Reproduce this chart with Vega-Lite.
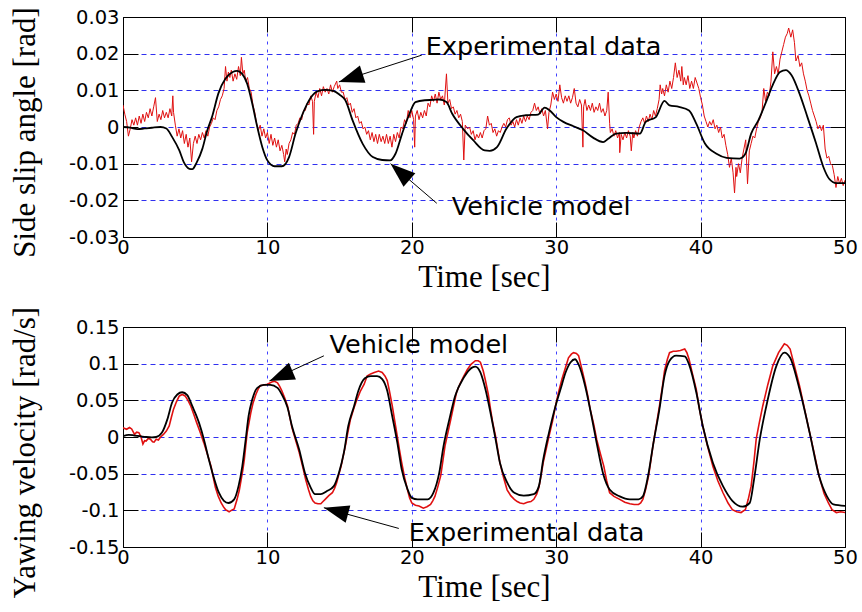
{
"$schema": "https://vega.github.io/schema/vega-lite/v6.json",
"background": "white",
"padding": {"left": 9, "top": 6, "right": 2, "bottom": 2},
"spacing": 13,
"config": {"view": {"stroke": null}},
"datasets": {
"topExp": [{"t":0,"v":0.006},{"t":0.125,"v":0.0035},{"t":0.25,"v":0.0015},{"t":0.375,"v":-0.0025},{"t":0.5,"v":-0.0005},{"t":0.625,"v":0.002},{"t":0.75,"v":0.0005},{"t":0.875,"v":0.0025},{"t":1,"v":0.0005},{"t":1.125,"v":0.003},{"t":1.25,"v":0.001},{"t":1.375,"v":0.0035},{"t":1.5,"v":0.0015},{"t":1.625,"v":0.004},{"t":1.75,"v":0.0025},{"t":1.875,"v":0.005},{"t":2,"v":0.003},{"t":2.125,"v":0.0055},{"t":2.25,"v":0.008},{"t":2.375,"v":0.0015},{"t":2.5,"v":0.0035},{"t":2.625,"v":0.002},{"t":2.75,"v":0.0045},{"t":2.875,"v":0.0025},{"t":3,"v":0.004},{"t":3.125,"v":0.0025},{"t":3.25,"v":0.005},{"t":3.375,"v":0.003},{"t":3.45,"v":0.0085},{"t":3.5,"v":0.004},{"t":3.625,"v":0.0005},{"t":3.75,"v":-0.0025},{"t":3.875,"v":-0.0005},{"t":4,"v":-0.003},{"t":4.125,"v":-0.001},{"t":4.25,"v":-0.0045},{"t":4.375,"v":-0.002},{"t":4.5,"v":-0.0055},{"t":4.625,"v":-0.003},{"t":4.75,"v":-0.0095},{"t":4.875,"v":-0.0045},{"t":5,"v":-0.0025},{"t":5.125,"v":-0.0045},{"t":5.25,"v":-0.002},{"t":5.375,"v":-0.0035},{"t":5.5,"v":-0.0015},{"t":5.625,"v":-0.003},{"t":5.75,"v":-0.001},{"t":5.875,"v":-0.0025},{"t":6,"v":0},{"t":6.125,"v":0.001},{"t":6.25,"v":0.0025},{"t":6.375,"v":0.002},{"t":6.5,"v":0.0045},{"t":6.625,"v":0.0055},{"t":6.75,"v":0.0075},{"t":6.875,"v":0.0085},{"t":7,"v":0.0105},{"t":7.1,"v":0.0165},{"t":7.2,"v":0.0125},{"t":7.3,"v":0.015},{"t":7.4,"v":0.0135},{"t":7.5,"v":0.0155},{"t":7.625,"v":0.0125},{"t":7.75,"v":0.0145},{"t":7.875,"v":0.013},{"t":8,"v":0.0165},{"t":8.125,"v":0.014},{"t":8.2,"v":0.019},{"t":8.3,"v":0.0145},{"t":8.4,"v":0.0155},{"t":8.5,"v":0.0125},{"t":8.625,"v":0.0135},{"t":8.75,"v":0.0105},{"t":8.875,"v":0.0095},{"t":9,"v":0.006},{"t":9.125,"v":0.004},{"t":9.25,"v":0.001},{"t":9.375,"v":-0.001},{"t":9.5,"v":0.0005},{"t":9.625,"v":-0.0025},{"t":9.75,"v":-0.0005},{"t":9.875,"v":-0.003},{"t":10,"v":-0.0015},{"t":10.125,"v":-0.0045},{"t":10.25,"v":-0.002},{"t":10.375,"v":-0.005},{"t":10.5,"v":-0.003},{"t":10.625,"v":-0.0055},{"t":10.75,"v":-0.0035},{"t":10.875,"v":-0.0065},{"t":11,"v":-0.005},{"t":11.125,"v":-0.0075},{"t":11.2,"v":-0.0095},{"t":11.3,"v":-0.006},{"t":11.375,"v":-0.0075},{"t":11.5,"v":-0.0045},{"t":11.625,"v":-0.0035},{"t":11.75,"v":-0.0015},{"t":11.875,"v":-0.002},{"t":12,"v":0.0005},{"t":12.125,"v":0.001},{"t":12.25,"v":0.0025},{"t":12.375,"v":0.002},{"t":12.5,"v":0.0045},{"t":12.625,"v":0.0045},{"t":12.75,"v":0.0065},{"t":12.875,"v":0.006},{"t":13,"v":0.0085},{"t":13.125,"v":0.007},{"t":13.2,"v":-0.002},{"t":13.25,"v":0.007},{"t":13.375,"v":0.0095},{"t":13.5,"v":0.008},{"t":13.625,"v":0.0105},{"t":13.75,"v":0.0085},{"t":13.875,"v":0.011},{"t":14,"v":0.0095},{"t":14.125,"v":0.0105},{"t":14.25,"v":0.009},{"t":14.375,"v":0.0115},{"t":14.5,"v":0.0095},{"t":14.625,"v":0.011},{"t":14.8,"v":0.0125},{"t":14.875,"v":0.0105},{"t":15,"v":0.0115},{"t":15.125,"v":0.0095},{"t":15.25,"v":0.0095},{"t":15.375,"v":0.0075},{"t":15.5,"v":0.008},{"t":15.625,"v":0.006},{"t":15.75,"v":0.0065},{"t":15.875,"v":0.004},{"t":16,"v":0.005},{"t":16.125,"v":0.0025},{"t":16.25,"v":0.003},{"t":16.375,"v":0.001},{"t":16.5,"v":0.0015},{"t":16.625,"v":-0.0005},{"t":16.75,"v":0},{"t":16.875,"v":-0.002},{"t":17,"v":-0.001},{"t":17.125,"v":-0.0035},{"t":17.25,"v":-0.0015},{"t":17.375,"v":-0.004},{"t":17.5,"v":-0.002},{"t":17.625,"v":-0.0045},{"t":17.75,"v":-0.002},{"t":17.875,"v":-0.004},{"t":18,"v":-0.0025},{"t":18.125,"v":-0.0045},{"t":18.25,"v":-0.002},{"t":18.375,"v":-0.0045},{"t":18.5,"v":-0.0025},{"t":18.625,"v":-0.0055},{"t":18.75,"v":-0.002},{"t":18.875,"v":-0.004},{"t":19,"v":-0.0015},{"t":19.125,"v":-0.003},{"t":19.25,"v":0},{"t":19.375,"v":-0.0005},{"t":19.5,"v":0.002},{"t":19.625,"v":0.001},{"t":19.75,"v":0.0045},{"t":19.875,"v":0.0025},{"t":20,"v":0.0045},{"t":20.125,"v":0.002},{"t":20.2,"v":-0.0055},{"t":20.25,"v":0.003},{"t":20.375,"v":0.0045},{"t":20.5,"v":0.002},{"t":20.625,"v":0.004},{"t":20.75,"v":0.0025},{"t":20.875,"v":0.0045},{"t":21,"v":0.003},{"t":21.125,"v":0.0065},{"t":21.25,"v":0.0055},{"t":21.375,"v":0.0085},{"t":21.5,"v":0.007},{"t":21.625,"v":0.009},{"t":21.75,"v":0.0065},{"t":21.875,"v":0.0095},{"t":22,"v":0.0075},{"t":22.125,"v":0.0085},{"t":22.25,"v":0.006},{"t":22.4,"v":0.0145},{"t":22.5,"v":0.0065},{"t":22.625,"v":0.0075},{"t":22.75,"v":0.005},{"t":22.875,"v":0.0055},{"t":23,"v":0.0035},{"t":23.125,"v":0.0045},{"t":23.25,"v":0.0025},{"t":23.375,"v":0.0035},{"t":23.5,"v":0.0015},{"t":23.6,"v":-0.009},{"t":23.7,"v":0.0005},{"t":23.875,"v":-0.0005},{"t":24,"v":0},{"t":24.125,"v":-0.002},{"t":24.25,"v":-0.001},{"t":24.375,"v":-0.0035},{"t":24.5,"v":-0.002},{"t":24.625,"v":-0.003},{"t":24.75,"v":-0.0015},{"t":24.875,"v":-0.003},{"t":25,"v":-0.001},{"t":25.125,"v":-0.0005},{"t":25.25,"v":0.003},{"t":25.375,"v":0.0005},{"t":25.5,"v":0.001},{"t":25.625,"v":-0.0015},{"t":25.75,"v":-0.0005},{"t":25.875,"v":-0.0025},{"t":26,"v":-0.001},{"t":26.125,"v":-0.0015},{"t":26.25,"v":0},{"t":26.375,"v":0.001},{"t":26.5,"v":0},{"t":26.625,"v":0.002},{"t":26.75,"v":0.0025},{"t":26.875,"v":0.0005},{"t":27,"v":0.0015},{"t":27.125,"v":0},{"t":27.25,"v":0.002},{"t":27.375,"v":0.0005},{"t":27.5,"v":0.0025},{"t":27.625,"v":0.001},{"t":27.75,"v":0.003},{"t":27.875,"v":0.0015},{"t":28,"v":0.003},{"t":28.125,"v":0.002},{"t":28.25,"v":0.004},{"t":28.375,"v":0.0045},{"t":28.5,"v":0.0065},{"t":28.625,"v":0.0045},{"t":28.75,"v":0.0055},{"t":28.875,"v":0.0035},{"t":29,"v":0.005},{"t":29.125,"v":0.003},{"t":29.25,"v":0.0045},{"t":29.4,"v":-0.0005},{"t":29.5,"v":0.004},{"t":29.625,"v":0.006},{"t":29.75,"v":0.0095},{"t":29.875,"v":0.0075},{"t":30,"v":0.009},{"t":30.125,"v":0.007},{"t":30.25,"v":0.0115},{"t":30.375,"v":0.008},{"t":30.5,"v":0.0065},{"t":30.625,"v":0.0085},{"t":30.75,"v":0.007},{"t":30.875,"v":0.0085},{"t":31,"v":0.0065},{"t":31.125,"v":0.008},{"t":31.25,"v":0.0105},{"t":31.375,"v":0.0065},{"t":31.5,"v":0.0055},{"t":31.625,"v":0.0075},{"t":31.75,"v":0.006},{"t":31.85,"v":-0.0055},{"t":31.9,"v":0.0055},{"t":32,"v":0.0075},{"t":32.125,"v":0.0045},{"t":32.25,"v":0.006},{"t":32.375,"v":0.0045},{"t":32.5,"v":0.0065},{"t":32.625,"v":0.004},{"t":32.75,"v":0.0055},{"t":32.875,"v":0.0045},{"t":33,"v":0.0065},{"t":33.125,"v":0.004},{"t":33.25,"v":0.005},{"t":33.375,"v":0.003},{"t":33.5,"v":0.0045},{"t":33.6,"v":0.0095},{"t":33.7,"v":0.001},{"t":33.75,"v":-0.0015},{"t":33.875,"v":-0.0005},{"t":34,"v":-0.0025},{"t":34.125,"v":-0.001},{"t":34.25,"v":-0.003},{"t":34.375,"v":-0.0015},{"t":34.4,"v":-0.007},{"t":34.5,"v":-0.002},{"t":34.625,"v":-0.0035},{"t":34.75,"v":-0.0015},{"t":34.875,"v":-0.003},{"t":35,"v":-0.001},{"t":35.125,"v":-0.0025},{"t":35.2,"v":-0.0065},{"t":35.3,"v":-0.0015},{"t":35.375,"v":-0.003},{"t":35.5,"v":-0.001},{"t":35.625,"v":-0.0025},{"t":35.75,"v":0},{"t":35.875,"v":0.0015},{"t":36,"v":0.0025},{"t":36.125,"v":0.001},{"t":36.25,"v":0.003},{"t":36.375,"v":0.0015},{"t":36.5,"v":0.0035},{"t":36.625,"v":0.002},{"t":36.75,"v":0.0045},{"t":36.875,"v":0.003},{"t":37,"v":0.005},{"t":37.125,"v":0.0075},{"t":37.2,"v":0.0115},{"t":37.3,"v":0.009},{"t":37.375,"v":0.0105},{"t":37.5,"v":0.0085},{"t":37.625,"v":0.0115},{"t":37.75,"v":0.0095},{"t":37.875,"v":0.0125},{"t":38,"v":0.0105},{"t":38.125,"v":0.0135},{"t":38.25,"v":0.0175},{"t":38.375,"v":0.0135},{"t":38.5,"v":0.0155},{"t":38.625,"v":0.0125},{"t":38.7,"v":0.0165},{"t":38.8,"v":0.0115},{"t":38.875,"v":0.0135},{"t":39,"v":0.0115},{"t":39.125,"v":0.014},{"t":39.25,"v":0.0105},{"t":39.375,"v":0.0125},{"t":39.5,"v":0.0105},{"t":39.625,"v":0.0135},{"t":39.75,"v":0.012},{"t":39.875,"v":0.0105},{"t":40,"v":0.008},{"t":40.125,"v":0.006},{"t":40.25,"v":0.003},{"t":40.375,"v":0.0015},{"t":40.5,"v":0},{"t":40.625,"v":0.0015},{"t":40.75,"v":0.0005},{"t":40.875,"v":0.002},{"t":41,"v":-0.0005},{"t":41.125,"v":0.0005},{"t":41.25,"v":-0.0015},{"t":41.375,"v":0},{"t":41.5,"v":-0.003},{"t":41.625,"v":-0.002},{"t":41.75,"v":-0.005},{"t":41.875,"v":-0.0075},{"t":42,"v":-0.011},{"t":42.125,"v":-0.0085},{"t":42.25,"v":-0.0125},{"t":42.35,"v":-0.018},{"t":42.45,"v":-0.011},{"t":42.5,"v":-0.0135},{"t":42.625,"v":-0.01},{"t":42.75,"v":-0.0125},{"t":42.875,"v":-0.0085},{"t":43,"v":-0.006},{"t":43.125,"v":-0.0035},{"t":43.25,"v":-0.0155},{"t":43.375,"v":-0.0065},{"t":43.5,"v":-0.0045},{"t":43.625,"v":-0.0025},{"t":43.75,"v":-0.003},{"t":43.875,"v":-0.0005},{"t":44,"v":0.0015},{"t":44.125,"v":0.0025},{"t":44.25,"v":0.004},{"t":44.375,"v":0.0105},{"t":44.5,"v":0.007},{"t":44.625,"v":0.0095},{"t":44.75,"v":0.0085},{"t":44.875,"v":0.0125},{"t":45,"v":0.0205},{"t":45.125,"v":0.0145},{"t":45.25,"v":0.0165},{"t":45.375,"v":0.0145},{"t":45.5,"v":0.0185},{"t":45.625,"v":0.0205},{"t":45.75,"v":0.0225},{"t":45.875,"v":0.0245},{"t":46,"v":0.0255},{"t":46.1,"v":0.027},{"t":46.25,"v":0.0245},{"t":46.375,"v":0.0265},{"t":46.5,"v":0.023},{"t":46.6,"v":0.018},{"t":46.75,"v":0.0195},{"t":46.875,"v":0.0165},{"t":47,"v":0.0175},{"t":47.125,"v":0.0145},{"t":47.25,"v":0.0125},{"t":47.375,"v":0.01},{"t":47.5,"v":0.0085},{"t":47.625,"v":0.0065},{"t":47.75,"v":0.0045},{"t":47.875,"v":0.003},{"t":48,"v":0.0015},{"t":48.125,"v":-0.0005},{"t":48.25,"v":0.0005},{"t":48.375,"v":-0.001},{"t":48.5,"v":0.0005},{"t":48.625,"v":-0.006},{"t":48.75,"v":-0.0085},{"t":48.875,"v":-0.008},{"t":49,"v":-0.01},{"t":49.125,"v":-0.0105},{"t":49.25,"v":-0.013},{"t":49.375,"v":-0.0165},{"t":49.5,"v":-0.0135},{"t":49.625,"v":-0.0155},{"t":49.75,"v":-0.014},{"t":49.875,"v":-0.016},{"t":50,"v":-0.0145}],
"topModel": [{"t":0,"v":0},{"t":0.5,"v":-0.0002},{"t":1,"v":-0.0006},{"t":1.5,"v":-0.0004},{"t":2,"v":-0.0002},{"t":2.6,"v":0},{"t":3,"v":-0.0004},{"t":3.4,"v":-0.0027},{"t":3.9,"v":-0.0064},{"t":4.2,"v":-0.0095},{"t":4.6,"v":-0.0114},{"t":4.8,"v":-0.0115},{"t":5.1,"v":-0.0097},{"t":5.5,"v":-0.0059},{"t":5.8,"v":-0.0014},{"t":6.2,"v":0.0032},{"t":6.6,"v":0.0091},{"t":7.1,"v":0.0132},{"t":7.6,"v":0.015},{"t":7.9,"v":0.0153},{"t":8.25,"v":0.0145},{"t":8.6,"v":0.0118},{"t":8.95,"v":0.0064},{"t":9.3,"v":0},{"t":9.65,"v":-0.0055},{"t":10,"v":-0.0091},{"t":10.5,"v":-0.0107},{"t":11,"v":-0.0107},{"t":11.5,"v":-0.0082},{"t":11.95,"v":-0.0018},{"t":12.4,"v":0.0032},{"t":13,"v":0.008},{"t":13.5,"v":0.0098},{"t":14,"v":0.0101},{"t":14.6,"v":0.0098},{"t":15,"v":0.0088},{"t":15.4,"v":0.0073},{"t":15.9,"v":0.0018},{"t":16.6,"v":-0.0046},{"t":17.3,"v":-0.0082},{"t":17.95,"v":-0.009},{"t":18.5,"v":-0.0091},{"t":18.87,"v":-0.0073},{"t":19.33,"v":-0.0018},{"t":19.8,"v":0.0032},{"t":20.25,"v":0.0068},{"t":20.9,"v":0.0073},{"t":21.5,"v":0.0074},{"t":21.9,"v":0.0075},{"t":22.4,"v":0.0068},{"t":22.8,"v":0.0036},{"t":23.55,"v":-0.0005},{"t":24.25,"v":-0.0036},{"t":25.05,"v":-0.0064},{"t":25.4,"v":-0.0065},{"t":25.9,"v":-0.0055},{"t":26.55,"v":-0.0005},{"t":27.25,"v":0.0027},{"t":27.9,"v":0.0032},{"t":28.75,"v":0.0034},{"t":29.2,"v":0.0053},{"t":29.55,"v":0.0045},{"t":30,"v":0.0027},{"t":30.5,"v":0.0014},{"t":31.2,"v":0.0002},{"t":31.85,"v":-0.0009},{"t":32.55,"v":-0.0029},{"t":33.25,"v":-0.0041},{"t":33.6,"v":-0.0032},{"t":34.15,"v":-0.0018},{"t":34.85,"v":-0.0016},{"t":35.8,"v":-0.0018},{"t":36.2,"v":0.0014},{"t":36.9,"v":0.0027},{"t":37.5,"v":0.0071},{"t":37.85,"v":0.0059},{"t":38.5,"v":0.0055},{"t":39.2,"v":0.0045},{"t":39.7,"v":0.0009},{"t":40.3,"v":-0.0045},{"t":41.1,"v":-0.0073},{"t":41.8,"v":-0.0084},{"t":42.7,"v":-0.0086},{"t":43.1,"v":-0.0073},{"t":43.5,"v":-0.0018},{"t":44,"v":0.0018},{"t":44.5,"v":0.0065},{"t":45,"v":0.0115},{"t":45.5,"v":0.015},{"t":45.9,"v":0.0155},{"t":46.3,"v":0.0141},{"t":46.85,"v":0.0091},{"t":47.4,"v":0.0027},{"t":48,"v":-0.0045},{"t":48.5,"v":-0.0109},{"t":48.9,"v":-0.0141},{"t":49.4,"v":-0.0153},{"t":50,"v":-0.0153}],
"botExp": [{"t":0,"v":0.0125},{"t":0.25,"v":0.0105},{"t":0.45,"v":0.013},{"t":0.6,"v":0.011},{"t":0.8,"v":0.0035},{"t":0.95,"v":0.0065},{"t":1.1,"v":0.006},{"t":1.25,"v":0},{"t":1.38,"v":-0.0095},{"t":1.5,"v":-0.005},{"t":1.6,"v":-0.0055},{"t":1.75,"v":-0.002},{"t":1.9,"v":-0.003},{"t":2.05,"v":-0.0065},{"t":2.15,"v":-0.007},{"t":2.3,"v":-0.003},{"t":2.45,"v":-0.004},{"t":2.6,"v":0},{"t":2.8,"v":0.0035},{"t":3,"v":0.008},{"t":3.2,"v":0.015},{"t":3.35,"v":0.027},{"t":3.5,"v":0.038},{"t":3.7,"v":0.048},{"t":3.9,"v":0.056},{"t":4.1,"v":0.058},{"t":4.3,"v":0.056},{"t":4.5,"v":0.05},{"t":4.7,"v":0.042},{"t":4.9,"v":0.031},{"t":5.1,"v":0.0196},{"t":5.35,"v":0.006},{"t":5.6,"v":-0.008},{"t":5.85,"v":-0.024},{"t":6.1,"v":-0.04},{"t":6.25,"v":-0.055},{"t":6.4,"v":-0.069},{"t":6.6,"v":-0.081},{"t":6.8,"v":-0.09},{"t":6.95,"v":-0.095},{"t":7.1,"v":-0.099},{"t":7.35,"v":-0.102},{"t":7.5,"v":-0.1},{"t":7.7,"v":-0.098},{"t":7.9,"v":-0.085},{"t":8.05,"v":-0.073},{"t":8.15,"v":-0.062},{"t":8.3,"v":-0.045},{"t":8.4,"v":-0.031},{"t":8.5,"v":-0.012},{"t":8.6,"v":0.006},{"t":8.75,"v":0.022},{"t":8.85,"v":0.033},{"t":9,"v":0.046},{"t":9.2,"v":0.058},{"t":9.35,"v":0.065},{"t":9.5,"v":0.07},{"t":9.75,"v":0.071},{"t":10,"v":0.072},{"t":10.3,"v":0.075},{"t":10.5,"v":0.076},{"t":10.7,"v":0.074},{"t":10.85,"v":0.069},{"t":11,"v":0.063},{"t":11.2,"v":0.053},{"t":11.4,"v":0.042},{"t":11.55,"v":0.027},{"t":11.7,"v":0.0128},{"t":11.95,"v":-0.004},{"t":12.2,"v":-0.021},{"t":12.45,"v":-0.041},{"t":12.65,"v":-0.058},{"t":12.85,"v":-0.072},{"t":13,"v":-0.081},{"t":13.15,"v":-0.087},{"t":13.3,"v":-0.09},{"t":13.5,"v":-0.091},{"t":13.7,"v":-0.091},{"t":13.85,"v":-0.088},{"t":14,"v":-0.085},{"t":14.25,"v":-0.08},{"t":14.5,"v":-0.076},{"t":14.65,"v":-0.07},{"t":14.8,"v":-0.062},{"t":14.95,"v":-0.051},{"t":15.1,"v":-0.04},{"t":15.25,"v":-0.026},{"t":15.4,"v":-0.012},{"t":15.55,"v":0.004},{"t":15.75,"v":0.024},{"t":16,"v":0.04},{"t":16.2,"v":0.051},{"t":16.45,"v":0.063},{"t":16.7,"v":0.072},{"t":16.9,"v":0.083},{"t":17.15,"v":0.086},{"t":17.4,"v":0.088},{"t":17.7,"v":0.09},{"t":17.95,"v":0.088},{"t":18.15,"v":0.083},{"t":18.3,"v":0.077},{"t":18.45,"v":0.063},{"t":18.65,"v":0.042},{"t":18.8,"v":0.024},{"t":19,"v":0},{"t":19.15,"v":-0.018},{"t":19.3,"v":-0.035},{"t":19.5,"v":-0.055},{"t":19.7,"v":-0.072},{"t":19.85,"v":-0.083},{"t":20,"v":-0.09},{"t":20.25,"v":-0.093},{"t":20.5,"v":-0.094},{"t":20.8,"v":-0.097},{"t":21.05,"v":-0.095},{"t":21.3,"v":-0.092},{"t":21.45,"v":-0.087},{"t":21.6,"v":-0.081},{"t":21.8,"v":-0.068},{"t":22,"v":-0.053},{"t":22.15,"v":-0.033},{"t":22.3,"v":-0.012},{"t":22.5,"v":0.006},{"t":22.7,"v":0.024},{"t":22.9,"v":0.043},{"t":23.1,"v":0.061},{"t":23.35,"v":0.073},{"t":23.6,"v":0.083},{"t":23.85,"v":0.092},{"t":24.1,"v":0.099},{"t":24.4,"v":0.104},{"t":24.6,"v":0.104},{"t":24.75,"v":0.102},{"t":24.95,"v":0.09},{"t":25.1,"v":0.077},{"t":25.3,"v":0.058},{"t":25.45,"v":0.038},{"t":25.6,"v":0.02},{"t":25.8,"v":0.001},{"t":25.95,"v":-0.017},{"t":26.1,"v":-0.035},{"t":26.35,"v":-0.055},{"t":26.6,"v":-0.072},{"t":26.85,"v":-0.08},{"t":27.1,"v":-0.085},{"t":27.3,"v":-0.088},{"t":27.5,"v":-0.09},{"t":27.75,"v":-0.091},{"t":28,"v":-0.089},{"t":28.25,"v":-0.088},{"t":28.45,"v":-0.085},{"t":28.65,"v":-0.078},{"t":28.8,"v":-0.069},{"t":28.95,"v":-0.053},{"t":29.1,"v":-0.035},{"t":29.3,"v":-0.017},{"t":29.5,"v":0.001},{"t":29.75,"v":0.022},{"t":29.95,"v":0.042},{"t":30.15,"v":0.06},{"t":30.4,"v":0.079},{"t":30.65,"v":0.095},{"t":30.85,"v":0.108},{"t":31.05,"v":0.113},{"t":31.2,"v":0.115},{"t":31.4,"v":0.114},{"t":31.55,"v":0.111},{"t":31.75,"v":0.095},{"t":32,"v":0.074},{"t":32.2,"v":0.055},{"t":32.35,"v":0.038},{"t":32.6,"v":0.017},{"t":32.8,"v":-0.003},{"t":33.05,"v":-0.022},{"t":33.3,"v":-0.04},{"t":33.5,"v":-0.06},{"t":33.7,"v":-0.076},{"t":34,"v":-0.081},{"t":34.4,"v":-0.085},{"t":34.75,"v":-0.089},{"t":35.1,"v":-0.091},{"t":35.4,"v":-0.092},{"t":35.7,"v":-0.092},{"t":35.85,"v":-0.09},{"t":36,"v":-0.085},{"t":36.2,"v":-0.071},{"t":36.4,"v":-0.053},{"t":36.55,"v":-0.033},{"t":36.7,"v":-0.012},{"t":36.9,"v":0.012},{"t":37.15,"v":0.042},{"t":37.35,"v":0.068},{"t":37.5,"v":0.09},{"t":37.7,"v":0.106},{"t":37.85,"v":0.115},{"t":38.1,"v":0.117},{"t":38.3,"v":0.117},{"t":38.6,"v":0.118},{"t":38.9,"v":0.12},{"t":39.05,"v":0.115},{"t":39.2,"v":0.106},{"t":39.45,"v":0.085},{"t":39.7,"v":0.065},{"t":39.9,"v":0.04},{"t":40.15,"v":0.015},{"t":40.5,"v":-0.014},{"t":40.85,"v":-0.04},{"t":41.2,"v":-0.06},{"t":41.55,"v":-0.076},{"t":41.9,"v":-0.09},{"t":42.2,"v":-0.099},{"t":42.5,"v":-0.102},{"t":42.8,"v":-0.103},{"t":43.1,"v":-0.099},{"t":43.3,"v":-0.085},{"t":43.5,"v":-0.067},{"t":43.7,"v":-0.033},{"t":43.85,"v":-0.003},{"t":44.05,"v":0.018},{"t":44.3,"v":0.042},{"t":44.65,"v":0.071},{"t":45,"v":0.097},{"t":45.4,"v":0.115},{"t":45.8,"v":0.127},{"t":46,"v":0.125},{"t":46.2,"v":0.12},{"t":46.5,"v":0.097},{"t":46.85,"v":0.07},{"t":47.2,"v":0.038},{"t":47.55,"v":0.006},{"t":47.9,"v":-0.025},{"t":48.2,"v":-0.053},{"t":48.55,"v":-0.077},{"t":48.85,"v":-0.09},{"t":49.1,"v":-0.099},{"t":49.4,"v":-0.103},{"t":49.7,"v":-0.102},{"t":50,"v":-0.103}],
"botModel": [{"t":0,"v":0.001},{"t":0.4,"v":0.003},{"t":0.8,"v":0.002},{"t":1.2,"v":0.001},{"t":1.6,"v":0},{"t":2,"v":-0.0005},{"t":2.3,"v":0},{"t":2.7,"v":0.006},{"t":3.07,"v":0.024},{"t":3.4,"v":0.047},{"t":3.76,"v":0.058},{"t":4.1,"v":0.061},{"t":4.45,"v":0.057},{"t":4.8,"v":0.042},{"t":5.26,"v":0.0196},{"t":5.6,"v":-0.003},{"t":5.95,"v":-0.031},{"t":6.3,"v":-0.056},{"t":6.64,"v":-0.076},{"t":6.99,"v":-0.087},{"t":7.3,"v":-0.09},{"t":7.7,"v":-0.085},{"t":8,"v":-0.067},{"t":8.26,"v":-0.04},{"t":8.5,"v":-0.003},{"t":8.7,"v":0.029},{"t":8.95,"v":0.051},{"t":9.3,"v":0.067},{"t":9.76,"v":0.071},{"t":10.2,"v":0.071},{"t":10.7,"v":0.067},{"t":11,"v":0.058},{"t":11.4,"v":0.04},{"t":11.7,"v":0.015},{"t":12.2,"v":-0.017},{"t":12.6,"v":-0.049},{"t":13,"v":-0.069},{"t":13.3,"v":-0.078},{"t":13.7,"v":-0.078},{"t":14.1,"v":-0.074},{"t":14.6,"v":-0.067},{"t":14.95,"v":-0.049},{"t":15.3,"v":-0.021},{"t":15.6,"v":0.015},{"t":16,"v":0.042},{"t":16.3,"v":0.063},{"t":16.75,"v":0.08},{"t":17.15,"v":0.083},{"t":17.6,"v":0.083},{"t":17.95,"v":0.079},{"t":18.3,"v":0.063},{"t":18.6,"v":0.033},{"t":19,"v":-0.008},{"t":19.3,"v":-0.044},{"t":19.7,"v":-0.071},{"t":20,"v":-0.083},{"t":20.4,"v":-0.085},{"t":21.1,"v":-0.085},{"t":21.5,"v":-0.076},{"t":21.9,"v":-0.049},{"t":22.2,"v":-0.012},{"t":22.6,"v":0.024},{"t":23,"v":0.056},{"t":23.6,"v":0.081},{"t":24.2,"v":0.095},{"t":24.4,"v":0.096},{"t":24.75,"v":0.088},{"t":25.1,"v":0.065},{"t":25.45,"v":0.033},{"t":25.8,"v":-0.003},{"t":26.1,"v":-0.035},{"t":26.6,"v":-0.062},{"t":27.1,"v":-0.076},{"t":27.75,"v":-0.08},{"t":28.45,"v":-0.078},{"t":28.8,"v":-0.067},{"t":29.1,"v":-0.031},{"t":29.5,"v":0.006},{"t":29.95,"v":0.042},{"t":30.3,"v":0.065},{"t":30.65,"v":0.088},{"t":31,"v":0.102},{"t":31.3,"v":0.106},{"t":31.55,"v":0.099},{"t":32,"v":0.07},{"t":32.4,"v":0.033},{"t":32.8,"v":-0.008},{"t":33.25,"v":-0.05},{"t":33.7,"v":-0.0715},{"t":34.4,"v":-0.081},{"t":35.1,"v":-0.085},{"t":35.7,"v":-0.085},{"t":36,"v":-0.081},{"t":36.4,"v":-0.049},{"t":36.7,"v":-0.012},{"t":37.15,"v":0.038},{"t":37.5,"v":0.083},{"t":37.85,"v":0.104},{"t":38.3,"v":0.111},{"t":38.9,"v":0.11},{"t":39.2,"v":0.099},{"t":39.7,"v":0.061},{"t":40.15,"v":0.015},{"t":40.85,"v":-0.035},{"t":41.55,"v":-0.067},{"t":42.2,"v":-0.087},{"t":42.9,"v":-0.095},{"t":43.4,"v":-0.09},{"t":43.7,"v":-0.058},{"t":44.1,"v":-0.003},{"t":44.55,"v":0.042},{"t":45.25,"v":0.097},{"t":45.8,"v":0.115},{"t":46.2,"v":0.108},{"t":46.85,"v":0.065},{"t":47.55,"v":0.006},{"t":48.2,"v":-0.053},{"t":48.75,"v":-0.081},{"t":49.2,"v":-0.092},{"t":50,"v":-0.094}],
"ann": [
{"panel":"top","name":"exp","label":"Experimental data","lt":20.97,"lv":0.0196,"t":20.69,"v":0.0196,"t2":14.95,"v2":0.0123},
{"panel":"top","name":"model","label":"Vehicle model","lt":22.77,"lv":-0.0241,"t":21.73,"v":-0.0208,"t2":18.53,"v2":-0.01},
{"panel":"bottom","name":"model","label":"Vehicle model","lt":14.3,"lv":0.1139,"t":13.91,"v":0.1107,"t2":10.14,"v2":0.0765},
{"panel":"bottom","name":"exp","label":"Experimental data","lt":19.79,"lv":-0.142,"t":19.1,"v":-0.1247,"t2":13.91,"v2":-0.0964}
]
},
"vconcat": [
{
"width": 722, "height": 220,
"resolve": {"axis": {"x": "independent", "y": "independent"}},
"layer": [
{"data": {"name": "topExp"},
 "mark": {"type": "line", "color": "#e01010", "strokeWidth": 1, "clip": true},
 "encoding": {
  "x": {"field": "t", "type": "quantitative", "scale": {"domain": [0, 50], "nice": false, "zero": false},
   "axis": {"orient": "bottom", "values": [0, 10, 20, 30, 40, 50], "title": "Time [sec]", "titleFont": "Liberation Serif", "titleFontSize": 31, "titleFontWeight": "normal", "titleColor": "black", "titlePadding": 6, "labelFont": "DejaVu Sans", "labelFontSize": 19.5, "labelColor": "black", "labelPadding": 16, "labelExpr": "toString(datum.value)", "labelFlush": false, "labelOverlap": false, "tickSize": -15, "tickColor": "black", "tickWidth": 1, "domainColor": "black", "domainWidth": 1, "grid": true, "gridColor": "#4040ff", "gridDash": [3, 5], "gridWidth": 1}},
  "y": {"field": "v", "type": "quantitative", "scale": {"domain": [-0.03, 0.03], "nice": false, "zero": false},
   "axis": {"orient": "left", "values": [-0.03, -0.02, -0.01, 0, 0.01, 0.02, 0.03], "title": "Side slip angle [rad]", "titleFont": "Liberation Serif", "titleFontSize": 31, "titleFontWeight": "normal", "titleColor": "black", "titlePadding": 27, "titleY": 115, "labelFont": "DejaVu Sans", "labelFontSize": 19.5, "labelColor": "black", "labelPadding": 19, "labelExpr": "toString(datum.value)", "labelFlush": false, "labelOverlap": false, "tickSize": -15, "tickColor": "black", "tickWidth": 1, "domainColor": "black", "domainWidth": 1, "grid": true, "gridColor": "#3030f0", "gridDash": [5, 4], "gridWidth": 1}}
 }},
{"data": {"name": "topModel"},
 "mark": {"type": "line", "color": "black", "strokeWidth": 1.8, "interpolate": "monotone", "clip": true},
 "encoding": {
  "x": {"field": "t", "type": "quantitative", "scale": {"domain": [0, 50], "nice": false, "zero": false},
   "axis": {"orient": "top", "values": [0, 10, 20, 30, 40, 50], "labels": false, "title": null, "tickSize": -15, "tickColor": "black", "domainColor": "black", "grid": false}},
  "y": {"field": "v", "type": "quantitative", "scale": {"domain": [-0.03, 0.03], "nice": false, "zero": false},
   "axis": {"orient": "right", "values": [-0.03, -0.02, -0.01, 0, 0.01, 0.02, 0.03], "labels": false, "title": null, "tickSize": -15, "tickColor": "black", "domainColor": "black", "grid": false}}
 }},
{"data": {"name": "ann"}, "transform": [{"filter": "datum.panel == 'top'"}],
 "mark": {"type": "rule", "color": "black", "strokeWidth": 1},
 "encoding": {"x": {"field": "t", "type": "quantitative", "axis": null}, "y": {"field": "v", "type": "quantitative", "axis": null}, "x2": {"field": "t2"}, "y2": {"field": "v2"}}},
{"data": {"name": "ann"}, "transform": [{"filter": "datum.panel == 'top' && datum.name == 'exp'"}],
 "mark": {"type": "point", "shape": "M0,0L-2,-0.72L-2,0.72Z", "size": 625, "angle": 162, "filled": true, "color": "black", "opacity": 1, "strokeWidth": 0},
 "encoding": {"x": {"field": "t2", "type": "quantitative", "axis": null}, "y": {"field": "v2", "type": "quantitative", "axis": null}}},
{"data": {"name": "ann"}, "transform": [{"filter": "datum.panel == 'top' && datum.name == 'model'"}],
 "mark": {"type": "point", "shape": "M0,0L-2,-0.72L-2,0.72Z", "size": 625, "angle": 221, "filled": true, "color": "black", "opacity": 1, "strokeWidth": 0},
 "encoding": {"x": {"field": "t2", "type": "quantitative", "axis": null}, "y": {"field": "v2", "type": "quantitative", "axis": null}}},
{"data": {"name": "ann"}, "transform": [{"filter": "datum.panel == 'top'"}],
 "mark": {"type": "text", "align": "left", "baseline": "alphabetic", "font": "DejaVu Sans", "fontSize": 25.5, "color": "black"},
 "encoding": {"x": {"field": "lt", "type": "quantitative", "axis": null}, "y": {"field": "lv", "type": "quantitative", "axis": null}, "text": {"field": "label"}}}
]
},
{
"width": 722, "height": 220,
"resolve": {"axis": {"x": "independent", "y": "independent"}},
"layer": [
{"data": {"name": "botExp"},
 "mark": {"type": "line", "color": "#e01010", "strokeWidth": 1.6, "clip": true},
 "encoding": {
  "x": {"field": "t", "type": "quantitative", "scale": {"domain": [0, 50], "nice": false, "zero": false},
   "axis": {"orient": "bottom", "values": [0, 10, 20, 30, 40, 50], "title": "Time [sec]", "titleFont": "Liberation Serif", "titleFontSize": 31, "titleFontWeight": "normal", "titleColor": "black", "titlePadding": 6, "labelFont": "DejaVu Sans", "labelFontSize": 19.5, "labelColor": "black", "labelPadding": 16, "labelExpr": "toString(datum.value)", "labelFlush": false, "labelOverlap": false, "tickSize": -15, "tickColor": "black", "tickWidth": 1, "domainColor": "black", "domainWidth": 1, "grid": true, "gridColor": "#4040ff", "gridDash": [3, 5], "gridWidth": 1}},
  "y": {"field": "v", "type": "quantitative", "scale": {"domain": [-0.15, 0.15], "nice": false, "zero": false},
   "axis": {"orient": "left", "values": [-0.15, -0.1, -0.05, 0, 0.05, 0.1, 0.15], "title": "Yawing velocity [rad/s]", "titleFont": "Liberation Serif", "titleFontSize": 31, "titleFontWeight": "normal", "titleColor": "black", "titlePadding": 27, "titleY": 125, "labelFont": "DejaVu Sans", "labelFontSize": 19.5, "labelColor": "black", "labelPadding": 19, "labelExpr": "toString(datum.value)", "labelFlush": false, "labelOverlap": false, "tickSize": -15, "tickColor": "black", "tickWidth": 1, "domainColor": "black", "domainWidth": 1, "grid": true, "gridColor": "#3030f0", "gridDash": [5, 4], "gridWidth": 1}}
 }},
{"data": {"name": "botModel"},
 "mark": {"type": "line", "color": "black", "strokeWidth": 1.8, "interpolate": "monotone", "clip": true},
 "encoding": {
  "x": {"field": "t", "type": "quantitative", "scale": {"domain": [0, 50], "nice": false, "zero": false},
   "axis": {"orient": "top", "values": [0, 10, 20, 30, 40, 50], "labels": false, "title": null, "tickSize": -15, "tickColor": "black", "domainColor": "black", "grid": false}},
  "y": {"field": "v", "type": "quantitative", "scale": {"domain": [-0.15, 0.15], "nice": false, "zero": false},
   "axis": {"orient": "right", "values": [-0.15, -0.1, -0.05, 0, 0.05, 0.1, 0.15], "labels": false, "title": null, "tickSize": -15, "tickColor": "black", "domainColor": "black", "grid": false}}
 }},
{"data": {"name": "ann"}, "transform": [{"filter": "datum.panel == 'bottom'"}],
 "mark": {"type": "rule", "color": "black", "strokeWidth": 1},
 "encoding": {"x": {"field": "t", "type": "quantitative", "axis": null}, "y": {"field": "v", "type": "quantitative", "axis": null}, "x2": {"field": "t2"}, "y2": {"field": "v2"}}},
{"data": {"name": "ann"}, "transform": [{"filter": "datum.panel == 'bottom' && datum.name == 'model'"}],
 "mark": {"type": "point", "shape": "M0,0L-2,-0.72L-2,0.72Z", "size": 625, "angle": 157, "filled": true, "color": "black", "opacity": 1, "strokeWidth": 0},
 "encoding": {"x": {"field": "t2", "type": "quantitative", "axis": null}, "y": {"field": "v2", "type": "quantitative", "axis": null}}},
{"data": {"name": "ann"}, "transform": [{"filter": "datum.panel == 'bottom' && datum.name == 'exp'"}],
 "mark": {"type": "point", "shape": "M0,0L-2,-0.72L-2,0.72Z", "size": 625, "angle": 195, "filled": true, "color": "black", "opacity": 1, "strokeWidth": 0},
 "encoding": {"x": {"field": "t2", "type": "quantitative", "axis": null}, "y": {"field": "v2", "type": "quantitative", "axis": null}}},
{"data": {"name": "ann"}, "transform": [{"filter": "datum.panel == 'bottom'"}],
 "mark": {"type": "text", "align": "left", "baseline": "alphabetic", "font": "DejaVu Sans", "fontSize": 25.5, "color": "black"},
 "encoding": {"x": {"field": "lt", "type": "quantitative", "axis": null}, "y": {"field": "lv", "type": "quantitative", "axis": null}, "text": {"field": "label"}}}
]
}
]
}
